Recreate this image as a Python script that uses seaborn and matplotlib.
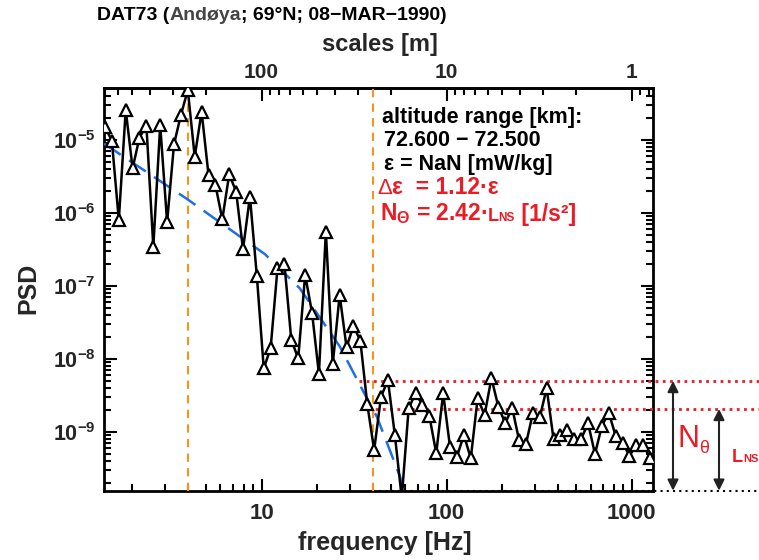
import numpy as np
import matplotlib
matplotlib.use("Agg")
import matplotlib.pyplot as plt
import seaborn as sns
from matplotlib.ticker import LogLocator, NullFormatter, FixedLocator, FixedFormatter
from matplotlib.offsetbox import TextArea, HPacker, AnnotationBbox
from matplotlib.patches import FancyArrowPatch

# ---------------- data ----------------
freq = [1.426, 1.553, 1.693, 1.845, 2.010, 2.190, 2.387, 2.601, 2.834, 3.088,
        3.365, 3.667, 3.996, 4.354, 4.745, 5.170, 5.634, 6.139, 6.690, 7.290,
        7.943, 8.656, 9.432, 10.28, 11.20, 12.20, 13.30, 14.49, 15.79, 17.21,
        18.75, 20.43, 22.27, 24.26, 26.44, 28.81, 31.39, 34.21, 37.28, 40.62,
        44.26, 48.23, 52.56, 57.27, 62.41, 68.00, 74.10, 80.75, 87.99, 95.88,
        104.5, 113.8, 124.1, 135.2, 147.3, 160.5, 174.9, 190.6, 207.7, 226.3,
        246.6, 268.7, 292.8, 319.1, 347.7, 378.9, 412.8, 449.9, 490.3, 534.2,
        582.1, 634.3, 691.2, 753.2, 820.9, 894.4, 974.6, 1062.0, 1157.0, 1261.0]
psd = [1.52e-5, 9.7e-6, 8.0e-7, 2.58e-5, 4.09e-6, 1.08e-5, 1.57e-5, 3.45e-7, 1.60e-5, 7.46e-7,
       8.73e-6, 2.20e-5, 4.84e-5, 5.90e-6, 2.44e-5, 3.32e-6, 2.42e-6, 8.20e-7, 3.39e-6, 1.96e-6,
       3.18e-7, 1.67e-6, 1.39e-7, 7.46e-9, 1.40e-8, 1.75e-7, 2.00e-7, 1.82e-8, 1.02e-8, 1.42e-7,
       4.31e-8, 6.24e-9, 5.55e-7, 8.45e-9, 7.53e-8, 1.45e-8, 2.83e-8, 1.78e-8, 2.42e-9, 5.66e-10,
       3.06e-9, 5.10e-9, 9.10e-10, 1.25e-10, 2.11e-9, 3.39e-9, 2.34e-9, 1.66e-9, 5.11e-10, 3.39e-9,
       6.17e-10, 4.59e-10, 9.10e-10, 4.37e-10, 2.90e-9, 1.71e-9, 5.45e-9, 2.22e-9, 1.32e-9, 2.15e-9,
       7.76e-10, 6.85e-10, 1.80e-9, 1.59e-9, 3.97e-9, 7.94e-10, 9.10e-10, 1.06e-9, 8.02e-10, 8.02e-10,
       1.32e-9, 5.00e-10, 1.21e-9, 1.84e-9, 8.81e-10, 7.13e-10, 4.73e-10, 6.64e-10, 6.64e-10, 4.37e-10]

fit_freq = [1.41, 3.95, 10.45, 16.1, 26.5, 37.1, 42.0, 56.1, 59.6]
fit_psd = [8.9e-6, 1.56e-6, 2.72e-7, 9.29e-8, 1.48e-8, 2.90e-9, 1.62e-9, 2.44e-10, 1.41e-10]

range_freqs = [4.0, 40.0]          # orange dashed lines
level_N = 5.0e-9                   # N_theta level
level_L = 2.07e-9                  # L_NS level
level_starts = [33.5, 37.5]        # where the red dotted levels start
noise_start = 40.0

xlim = (1.408, 1306.0)
ylim = (1.57e-10, 5.15e-5)

xticks = [10, 100, 1000]
xticklabels = ["10", "100", "1000"]
yticks = [1e-9, 1e-8, 1e-7, 1e-6, 1e-5]
yticklabels = [r"$10^{-9}$", r"$10^{-8}$", r"$10^{-7}$", r"$10^{-6}$", r"$10^{-5}$"]
scale_ticks = [100, 10, 1]
scale_labels = ["100", "10", "1"]

title_parts = ["DAT73 (", "Andøya", "; 69°N; 08−MAR−1990)"]
info_lines = ["altitude range [km]:", "72.600 − 72.500", "ε = NaN [mW/kg]"]

RED = "#ec1c24"
ORANGE = "#f7941d"
BLUE = "#1f6fe8"

# ---------------- style ----------------
sns.set_style("ticks")
plt.rcParams["font.family"] = ["Liberation Sans", "DejaVu Sans"]
plt.rcParams["font.weight"] = "bold"
plt.rcParams["mathtext.fontset"] = "custom"
plt.rcParams["mathtext.rm"] = "Liberation Sans:bold"
plt.rcParams["mathtext.bf"] = "Liberation Sans:bold"
plt.rcParams["mathtext.it"] = "Liberation Sans:bold:italic"
plt.rcParams["mathtext.sf"] = "Liberation Sans:bold"
plt.rcParams["mathtext.default"] = "rm"

W, H = 759, 560
fig = plt.figure(figsize=(W / 100, H / 100), dpi=100)
L, R, T, B = 104, 653, 88, 490.7
ax = fig.add_axes([L / W, 1 - B / H, (R - L) / W, (B - T) / H])
ax.set_xscale("log")
ax.set_yscale("log")

# data line
sns.lineplot(x=freq, y=psd, ax=ax, color="black", linewidth=1.8, marker="^",
             markersize=8.5, markerfacecolor="white", markeredgecolor="black",
             markeredgewidth=1.6, estimator=None, sort=False, zorder=5)

# fit
ax.plot(fit_freq, fit_psd, color=BLUE, linewidth=1.8, dashes=(8, 4), zorder=4)

# orange range lines
for f in range_freqs:
    ax.axvline(f, color=ORANGE, linewidth=1.5, dashes=(4, 3), zorder=3)

# red dotted levels extending beyond axes
for lev, fs in zip([level_N, level_L], level_starts):
    ax.plot([fs, 6000], [lev, lev], color=RED, linewidth=2.0, linestyle=(0, (1, 1.6)),
            clip_on=False, zorder=3)
ax.plot([noise_start, 6000], [ylim[0], ylim[0]], color="black", linewidth=1.5,
        linestyle=(0, (1, 2)), clip_on=False, zorder=2)

ax.set_xlim(*xlim)
ax.set_ylim(*ylim)

# ticks
ax.xaxis.set_major_locator(FixedLocator(xticks))
ax.xaxis.set_major_formatter(FixedFormatter(xticklabels))
ax.xaxis.set_minor_locator(LogLocator(base=10, subs=np.arange(2, 10)))
ax.xaxis.set_minor_formatter(NullFormatter())
ax.yaxis.set_major_locator(FixedLocator(yticks))
ax.yaxis.set_major_formatter(FixedFormatter(yticklabels))
ax.yaxis.set_minor_locator(LogLocator(base=10, subs=np.arange(2, 10), numticks=20))
ax.yaxis.set_minor_formatter(NullFormatter())
ax.tick_params(which="both", direction="in", top=False, right=True, width=1.5, color="black")
ax.tick_params(which="major", length=9)
ax.tick_params(which="minor", length=5)
ax.tick_params(axis="x", which="major", labelsize=16, pad=9)
ax.tick_params(axis="y", which="major", labelsize=15.5, pad=6)
for s in ax.spines.values():
    s.set_linewidth(2)
    s.set_color("black")

sec = ax.secondary_xaxis("top", functions=(lambda f: 1000.0 / f, lambda s: 1000.0 / s))
sec.set_xticks(scale_ticks, labels=scale_labels)
sec.xaxis.set_minor_locator(LogLocator(base=10, subs=np.arange(2, 10)))
sec.xaxis.set_minor_formatter(NullFormatter())
sec.tick_params(which="both", direction="in", width=1.5, color="black")
sec.tick_params(which="major", length=9, labelsize=15, pad=4)
sec.tick_params(which="minor", length=5)
sec.spines["top"].set_linewidth(2)

# axis labels
fig.text(385 / W, 1 - 543 / H, "frequency [Hz]", ha="center", va="center", fontsize=18)
fig.text(28 / W, 1 - 288 / H, "PSD", ha="center", va="center", rotation=90, fontsize=18)
fig.text(380 / W, 1 - 45 / H, "scales [m]", ha="center", va="center", fontsize=17)

# title
def row(parts, y, x, align=(0, 0.5)):
    box = HPacker(children=parts, align="baseline", pad=0, sep=0)
    ab = AnnotationBbox(box, (x, H - y), xycoords="figure pixels", box_alignment=align,
                        frameon=False, pad=0)
    fig.add_artist(ab)

tp = dict(fontsize=14, fontweight="bold")
row([TextArea(title_parts[0], textprops=dict(color="black", **tp)),
     TextArea(title_parts[1], textprops=dict(color="#444444", **tp)),
     TextArea(title_parts[2], textprops=dict(color="black", **tp))], 15, 97)

# info text
ip = dict(fontsize=15.5, fontweight="bold")
fig.text(382 / W, 1 - 123 / H, info_lines[0], ha="left", va="baseline", color="black", **ip)
fig.text(384 / W, 1 - 146 / H, info_lines[1], ha="left", va="baseline", color="black", **ip)
fig.text(384 / W, 1 - 170 / H, info_lines[2], ha="left", va="baseline", color="black", **ip)
row([TextArea("Δ", textprops=dict(color=RED, fontsize=16, fontweight="normal")),
     TextArea("ε  = 1.12·ε", textprops=dict(color=RED, fontsize=16.5, fontweight="bold"))],
    187, 377)
row([TextArea(r"N$_{\Theta}$ = 2.42·", textprops=dict(color=RED, fontsize=16.5, fontweight="bold")),
     TextArea("L", textprops=dict(color=RED, fontsize=13, fontweight="bold")),
     TextArea("NS", textprops=dict(color=RED, fontsize=8.5, fontweight="bold")),
     TextArea(" [1/s²]", textprops=dict(color=RED, fontsize=16.5, fontweight="bold"))], 214, 380)

# arrows
def yfig(v):
    return ax.transData.transform((10, v))[1]

y_bot = yfig(ylim[0])
for xpx, lev in [(673, level_N), (719, level_L)]:
    arr = FancyArrowPatch((xpx, yfig(lev)), (xpx, y_bot), transform=None,
                          arrowstyle="<|-|>", mutation_scale=16, linewidth=1.5,
                          color="#222222", shrinkA=0, shrinkB=0)
    fig.add_artist(arr)

fig.text(677 / W, 1 - 447 / H, "N", color=RED, fontsize=22, fontweight="normal",
         ha="left", va="baseline")
fig.text(699 / W, 1 - 453 / H, "θ", color=RED, fontsize=13, fontweight="normal",
         ha="left", va="baseline")
fig.text(732 / W, 1 - 462 / H, "L", color=RED, fontsize=13, fontweight="bold",
         ha="left", va="baseline")
fig.text(743 / W, 1 - 462 / H, "NS", color=RED, fontsize=8, fontweight="bold",
         ha="left", va="baseline")

fig.savefig("out.png", dpi=100)
